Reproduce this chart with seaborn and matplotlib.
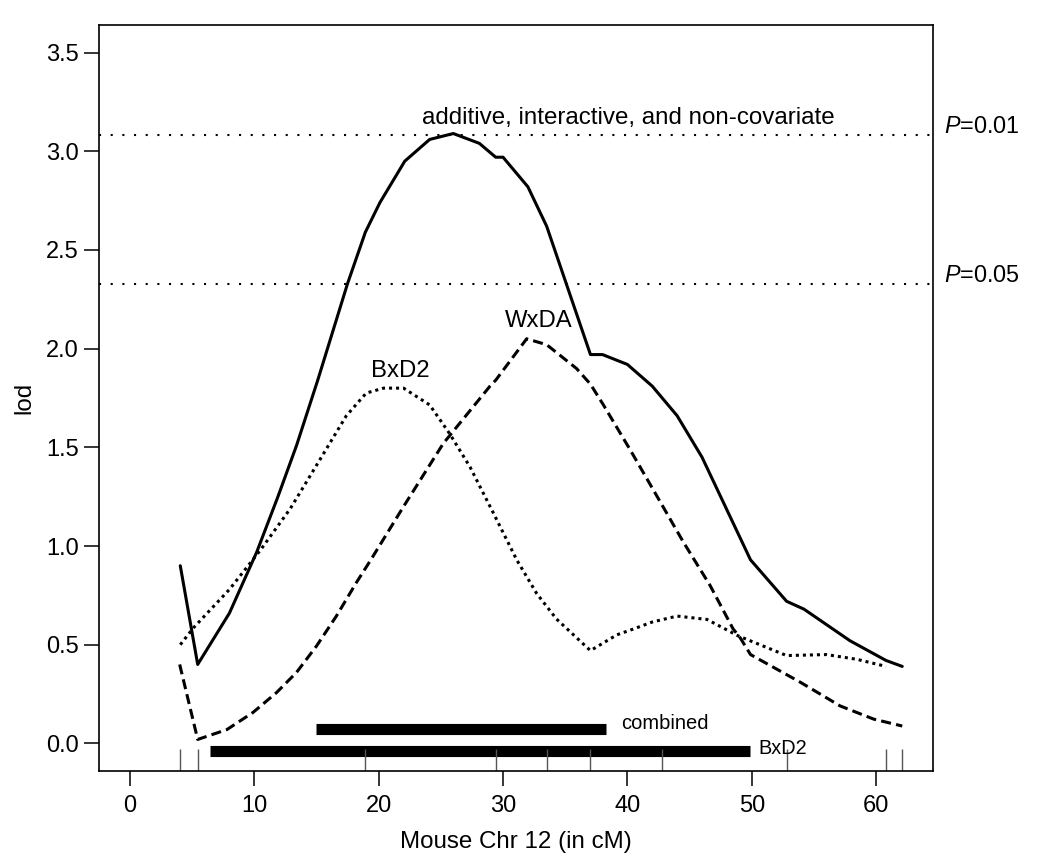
import matplotlib
matplotlib.use("Agg")
import matplotlib.pyplot as plt
import seaborn as sns

# marker positions on chr 12 (cM), drawn as a rug
markers = [4.05, 5.45, 18.93, 29.41, 33.51, 37.03, 42.82, 52.8, 60.8, 62.1]

# combined scan: additive, interactive, and non-covariate
comb_pos = [4.05, 5.45, 8.0, 10.2, 11.9, 13.4, 15.1, 17.5, 18.93, 20.1, 22.1,
            24.1, 26.0, 28.1, 29.41, 30.0, 32.0, 33.51, 37.03, 38.0, 40.0,
            42.0, 44.0, 46.0, 49.9, 52.8, 54.2, 57.9, 60.8, 62.1]
comb_lod = [0.90, 0.40, 0.66, 0.97, 1.25, 1.51, 1.84, 2.33, 2.59, 2.74, 2.95,
            3.06, 3.09, 3.04, 2.97, 2.97, 2.82, 2.62, 1.97, 1.97, 1.92,
            1.81, 1.66, 1.45, 0.93, 0.72, 0.68, 0.52, 0.42, 0.39]

# BxD2 cross
bxd2_pos = [4.05, 5.1, 8.0, 10.5, 12.9, 15.3, 17.4, 19.0, 20.4, 22.0, 24.1,
            25.7, 27.35, 29.2, 31.1, 32.7, 34.3, 37.03, 39.15, 40.5, 42.0,
            44.0, 46.4, 48.9, 52.8, 56.0, 58.45, 60.8]
bxd2_lod = [0.50, 0.585, 0.78, 0.98, 1.19, 1.44, 1.66, 1.775, 1.80, 1.80, 1.715,
            1.57, 1.40, 1.17, 0.93, 0.76, 0.63, 0.47, 0.55, 0.58, 0.615,
            0.645, 0.628, 0.545, 0.445, 0.45, 0.426, 0.39]

# WxDA cross
wxda_pos = [4.0, 5.45, 7.8, 9.9, 11.8, 13.4, 15.0, 16.6, 18.2, 19.3, 22.0,
            25.2, 28.95, 29.41, 31.9, 33.51, 35.9, 37.03, 38.07, 40.2, 42.4,
            44.5, 46.65, 48.5, 49.06, 49.9, 53.9, 57.1, 59.8, 62.1]
wxda_lod = [0.40, 0.02, 0.07, 0.157, 0.258, 0.36, 0.493, 0.645, 0.814, 0.923, 1.20,
            1.52, 1.81, 1.84, 2.05, 2.02, 1.90, 1.82, 1.715, 1.49, 1.25,
            1.02, 0.80, 0.58, 0.536, 0.45, 0.31, 0.19, 0.123, 0.088]

# significance thresholds
thresholds = [3.084, 2.33]
threshold_labels = ["$P$=0.01", "$P$=0.05"]

# confidence intervals (cM)
ci_combined = [14.93, 38.3]
ci_bxd2 = [6.43, 49.87]

sns.set_theme(style="white")
plt.rcParams["font.family"] = ["Liberation Sans", "DejaVu Sans"]
plt.rcParams["mathtext.fontset"] = "custom"
plt.rcParams["mathtext.rm"] = "Liberation Sans"
plt.rcParams["mathtext.it"] = "Liberation Sans:italic"
plt.rcParams["text.color"] = "black"
plt.rcParams["axes.labelcolor"] = "black"

fig = plt.figure(figsize=(10.5, 8.67), dpi=100)
ax = fig.add_axes([0.0943, 0.1107, 0.7946, 0.8605])

sns.lineplot(x=comb_pos, y=comb_lod, ax=ax, color="black", lw=2.2,
             estimator=None, sort=False)
sns.lineplot(x=wxda_pos, y=wxda_lod, ax=ax, color="black", lw=2.2,
             linestyle=(0, (3.3, 1.7)), estimator=None, sort=False)
sns.lineplot(x=bxd2_pos, y=bxd2_lod, ax=ax, color="black", lw=2.2,
             linestyle=(0, (1, 1.3)), estimator=None, sort=False)

for t, lab in zip(thresholds, threshold_labels):
    ax.axhline(t, color="black", lw=1.5, linestyle=(0, (1, 4.6)))
    ax.text(1.013, t + 0.04, lab, transform=ax.get_yaxis_transform(),
            fontsize=16.8, ha="left", va="center", clip_on=False)

# interval bars
ax.plot(ci_combined, [0.075, 0.075], color="black", lw=8, solid_capstyle="butt")
ax.plot(ci_bxd2, [-0.037, -0.037], color="black", lw=8, solid_capstyle="butt")
ax.text(ci_combined[1] + 1.2, 0.10, "combined", fontsize=14.5, va="center", ha="left")
ax.text(ci_bxd2[1] + 0.65, -0.024, "BxD2", fontsize=14.3, va="center", ha="left")

sns.rugplot(x=markers, height=0.03, ax=ax, color="#555555", lw=0.9,
            expand_margins=False)

ax.text(40.1, 3.17, "additive, interactive, and non-covariate", fontsize=17.4,
        ha="center", va="center")
ax.text(32.84, 2.14, "WxDA", fontsize=17.2, ha="center", va="center")
ax.text(21.76, 1.885, "BxD2", fontsize=17.2, ha="center", va="center")

ax.set_xlim(-2.485, 64.6)
ax.set_ylim(-0.14, 3.64)
ax.set_xticks(range(0, 61, 10))
yt = [i * 0.5 for i in range(8)]
ax.set_yticks(yt)
ax.set_yticklabels([f"{v:.1f}" for v in yt])
ax.tick_params(bottom=True, left=True, direction="out", length=10.5, width=1.1,
               labelsize=17, colors="black")
ax.tick_params(axis="x", pad=7)
ax.tick_params(axis="y", pad=4)
for s in ax.spines.values():
    s.set_color("black")
    s.set_linewidth(1.2)

ax.set_xlabel("Mouse Chr 12 (in cM)", fontsize=17.4, labelpad=10)
ax.set_ylabel("lod", fontsize=17.4, labelpad=8)

fig.savefig("out.png", dpi=100)
